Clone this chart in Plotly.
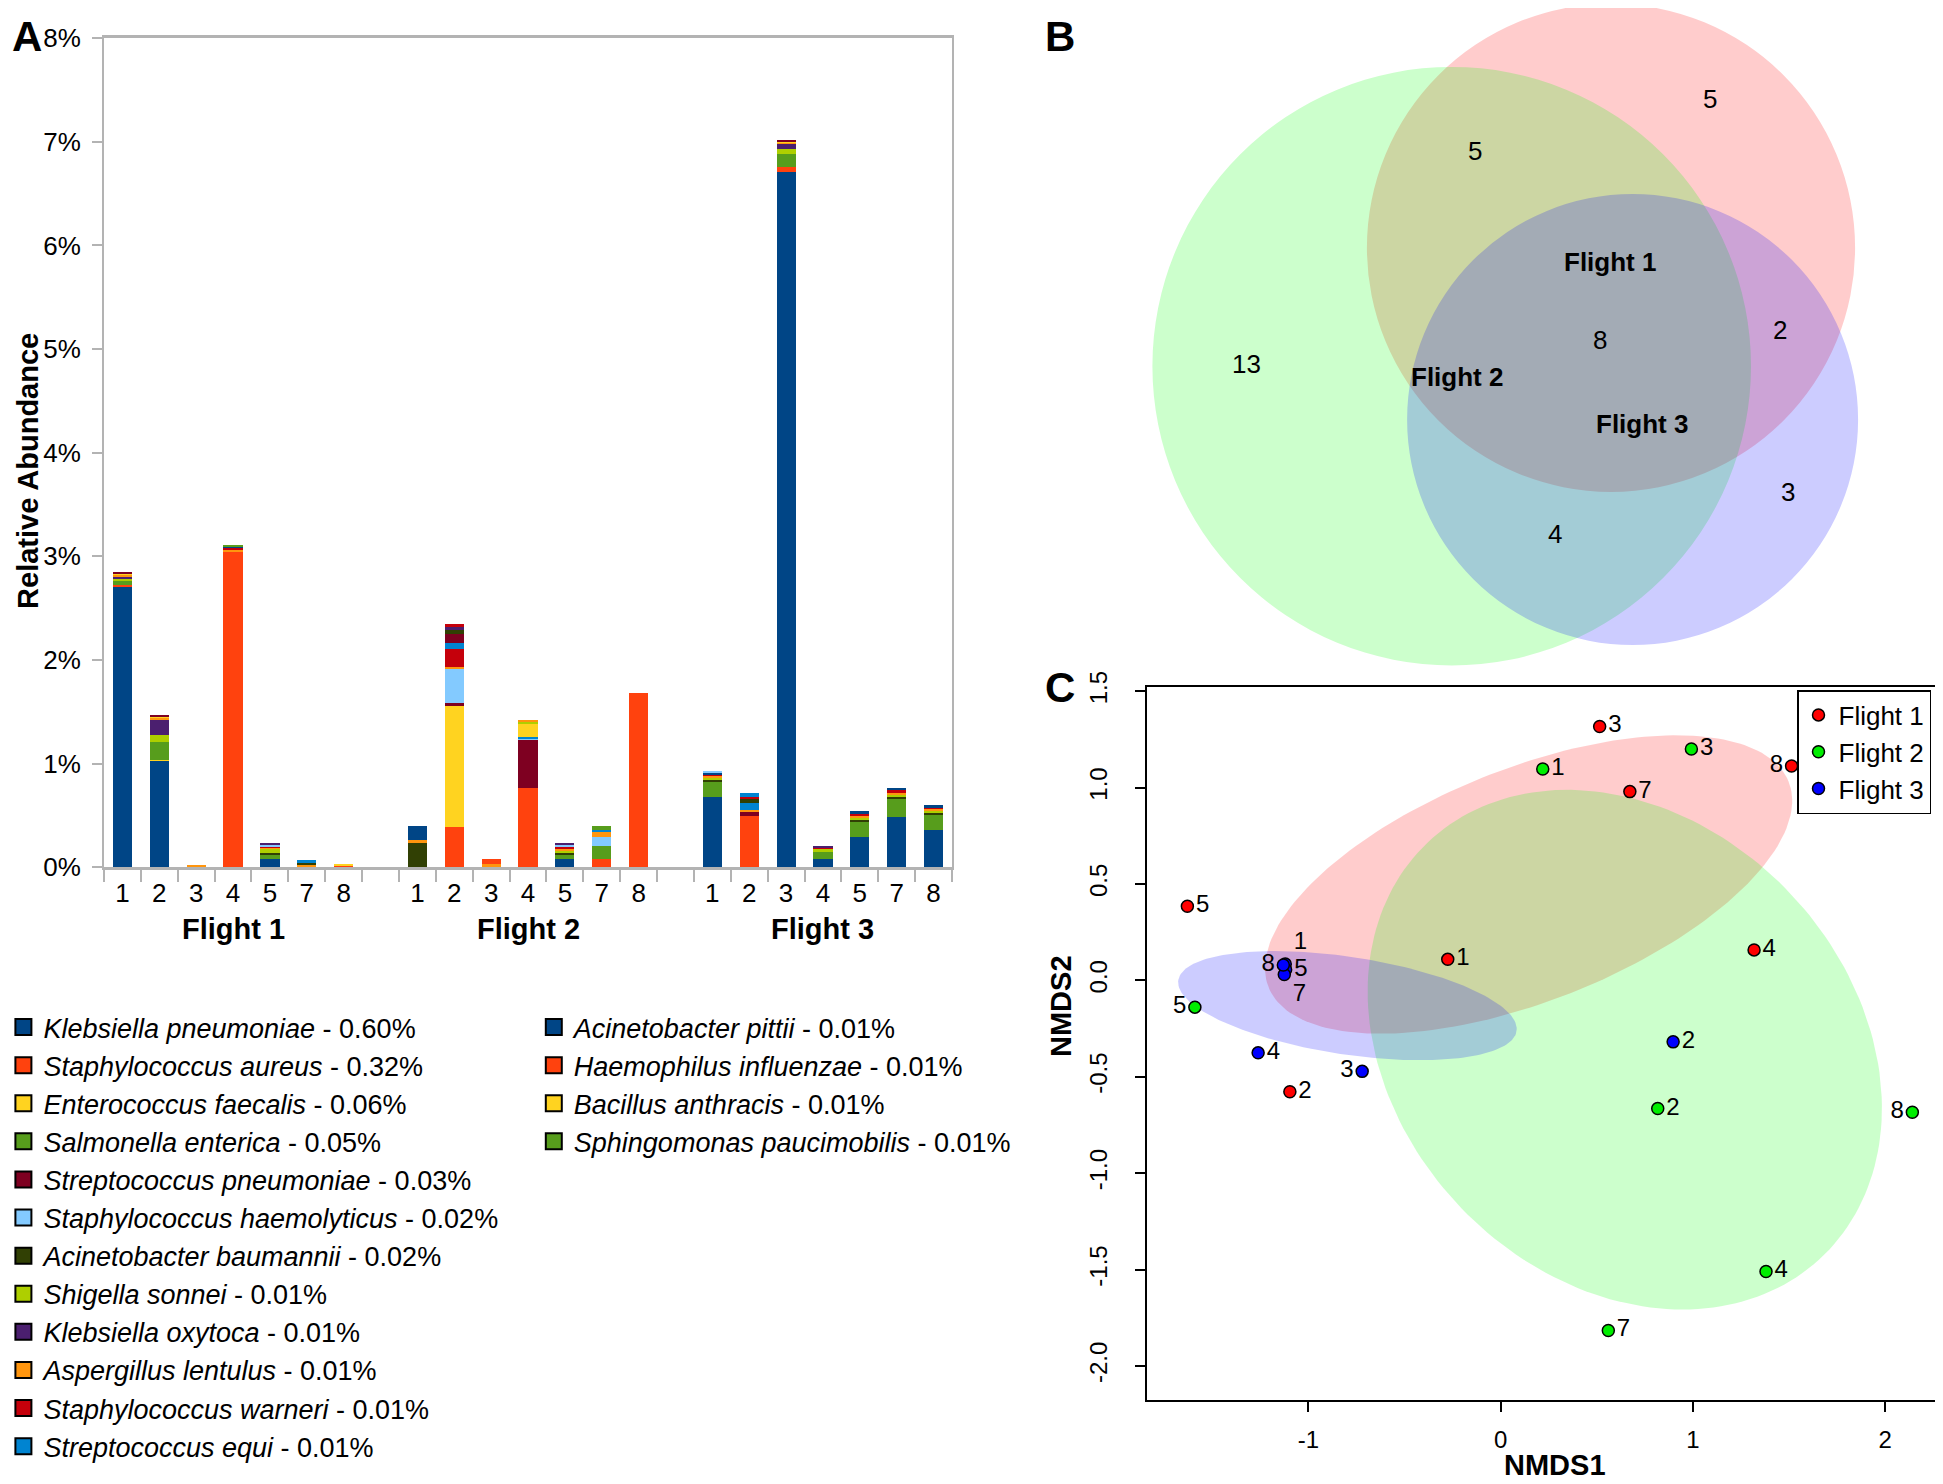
import numpy as np
import plotly.graph_objects as go

SANS = "Liberation Sans, Arial, Helvetica, sans-serif"

# ======================= Panel A : stacked relative abundance =======================
flights = ["Flight 1", "Flight 2", "Flight 3"]
samples = ["1", "2", "3", "4", "5", "7", "8"]
abundance_ticks = [0, 1, 2, 3, 4, 5, 6, 7, 8]

species_names = [
    "Klebsiella pneumoniae", "Staphylococcus aureus", "Enterococcus faecalis",
    "Salmonella enterica", "Streptococcus pneumoniae", "Staphylococcus haemolyticus",
    "Acinetobacter baumannii", "Shigella sonnei", "Klebsiella oxytoca",
    "Aspergillus lentulus", "Staphylococcus warneri", "Streptococcus equi",
    "Acinetobacter pittii", "Haemophilus influenzae", "Bacillus anthracis",
    "Sphingomonas paucimobilis",
]
species_mean = ["0.60%", "0.32%", "0.06%", "0.05%", "0.03%", "0.02%", "0.02%", "0.01%",
                "0.01%", "0.01%", "0.01%", "0.01%", "0.01%", "0.01%", "0.01%", "0.01%"]
other_names = ["Other taxon 1", "Other taxon 2", "Other taxon 3", "Other taxon 4",
               "Other taxon 5", "Other taxon 6", "Other taxon 7", "Other taxon 8"]

# relative abundance (%) per sample: Flight 1 (1,2,3,4,5,7,8), Flight 2 (...), Flight 3 (...)
klebsiella_pneumoniae = [2.707, 1.026, 0, 0, 0.077, 0, 0, 0, 0, 0, 0, 0.084, 0, 0, 0.682, 0, 6.711, 0.084, 0.296, 0.489, 0.36]
staphylococcus_aureus = [0.013, 0, 0.006, 3.04, 0, 0, 0.016, 0, 0.392, 0, 0.762, 0, 0.084, 1.669, 0, 0.495, 0.042, 0, 0, 0, 0]
enterococcus_faecalis = [0, 0.012, 0, 0, 0, 0, 0, 0, 1.164, 0, 0, 0, 0, 0, 0, 0, 0, 0, 0, 0, 0]
salmonella_enterica = [0.045, 0.169, 0, 0, 0.048, 0, 0, 0, 0, 0, 0, 0.042, 0.125, 0, 0.145, 0, 0.132, 0.068, 0.145, 0.177, 0.145]
streptococcus_pneumoniae = [0, 0, 0, 0, 0, 0, 0, 0, 0.03, 0, 0.473, 0, 0, 0, 0, 0.042, 0, 0, 0, 0, 0]
staphylococcus_haemolyticus = [0, 0, 0, 0, 0, 0, 0, 0, 0.328, 0, 0.008, 0, 0.08, 0, 0, 0, 0, 0, 0, 0, 0]
acinetobacter_baumannii = [0, 0, 0, 0, 0.013, 0, 0, 0.238, 0, 0, 0, 0.013, 0, 0, 0.016, 0, 0, 0, 0.016, 0.013, 0.016]
shigella_sonnei = [0.02, 0.07, 0, 0, 0.04, 0, 0, 0, 0, 0, 0, 0.022, 0, 0, 0.022, 0, 0.045, 0.032, 0.022, 0.022, 0.022]
klebsiella_oxytoca = [0.02, 0.15, 0, 0, 0, 0, 0, 0, 0, 0, 0, 0, 0, 0, 0, 0, 0.05, 0, 0, 0, 0]
aspergillus_lentulus = [0.02, 0.016, 0.006, 0.02, 0.01, 0.026, 0, 0.026, 0.02, 0.03, 0, 0.022, 0.058, 0, 0.016, 0.016, 0.013, 0, 0.02, 0.02, 0.02]
staphylococcus_warneri = [0, 0, 0, 0.02, 0.012, 0, 0, 0, 0.174, 0, 0, 0.016, 0, 0, 0.016, 0, 0, 0.01, 0.013, 0.022, 0.013]
streptococcus_equi = [0, 0, 0, 0, 0, 0, 0, 0, 0.055, 0, 0.012, 0, 0.013, 0, 0, 0.07, 0, 0, 0, 0, 0]
acinetobacter_pittii = [0, 0, 0, 0.015, 0, 0, 0, 0.138, 0, 0, 0, 0, 0, 0, 0.016, 0, 0, 0, 0.032, 0.026, 0.022]
haemophilus_influenzae = [0, 0, 0, 0, 0, 0, 0, 0, 0, 0.047, 0, 0, 0, 0.013, 0, 0, 0, 0, 0, 0, 0]
bacillus_anthracis = [0.013, 0.01, 0, 0, 0, 0, 0.013, 0, 0, 0, 0.129, 0, 0, 0, 0, 0, 0.013, 0, 0, 0, 0]
sphingomonas_paucimobilis = [0, 0, 0, 0.015, 0, 0, 0, 0, 0, 0, 0, 0, 0.039, 0, 0, 0, 0, 0, 0, 0, 0]
other_1 = [0.008, 0.01, 0, 0, 0, 0, 0, 0, 0.09, 0, 0, 0, 0, 0, 0, 0, 0.01, 0, 0, 0, 0]
other_2 = [0, 0, 0, 0, 0.016, 0, 0, 0, 0, 0, 0, 0.02, 0, 0, 0.01, 0, 0, 0, 0, 0, 0]
other_3 = [0, 0, 0, 0, 0, 0.02, 0, 0, 0.032, 0, 0, 0, 0, 0, 0, 0.039, 0, 0, 0, 0, 0]
other_4 = [0, 0, 0, 0, 0, 0, 0, 0, 0, 0, 0.026, 0, 0, 0, 0, 0, 0, 0, 0, 0, 0]
other_5 = [0, 0, 0, 0, 0.008, 0, 0, 0, 0.035, 0, 0, 0.013, 0, 0, 0, 0, 0, 0.012, 0, 0, 0]
other_6 = [0, 0, 0, 0, 0, 0, 0, 0, 0, 0, 0.013, 0, 0, 0, 0, 0, 0, 0, 0, 0, 0]
other_7 = [0, 0, 0, 0, 0, 0, 0, 0, 0.032, 0, 0, 0, 0, 0, 0, 0.02, 0, 0, 0, 0, 0]
other_8 = [0, 0, 0, 0, 0, 0.025, 0, 0, 0, 0, 0, 0, 0, 0, 0, 0.035, 0, 0, 0, 0, 0]

abundance = [klebsiella_pneumoniae, staphylococcus_aureus, enterococcus_faecalis,
             salmonella_enterica, streptococcus_pneumoniae, staphylococcus_haemolyticus,
             acinetobacter_baumannii, shigella_sonnei, klebsiella_oxytoca,
             aspergillus_lentulus, staphylococcus_warneri, streptococcus_equi,
             acinetobacter_pittii, haemophilus_influenzae, bacillus_anthracis,
             sphingomonas_paucimobilis,
             other_1, other_2, other_3, other_4, other_5, other_6, other_7, other_8]

base_palette = ["#004586", "#ff420e", "#ffd320", "#579d1c", "#7e0021", "#83caff",
                "#314004", "#aecf00", "#4b1f6f", "#ff950e", "#c5000b", "#0084d1"]
palette = [base_palette[i % 12] for i in range(len(abundance))]

# ======================= Panel B : Venn counts =======================
venn_sets = ["Flight 1", "Flight 2", "Flight 3"]
venn_regions = ["Flight 1 only", "Flight 1 & 2", "Flight 2 only", "All flights",
                "Flight 1 & 3", "Flight 3 only", "Flight 2 & 3"]
venn_counts = [5, 5, 13, 8, 2, 3, 4]

# ======================= Panel C : NMDS =======================
f1_lab = ["1", "2", "3", "4", "5", "7", "8"]
f1_x = [-0.275, -1.096, 0.515, 1.318, -1.629, 0.672, 1.513]
f1_y = [0.109, -0.578, 1.317, 0.158, 0.384, 0.979, 1.112]
f2_lab = ["1", "2", "3", "4", "5", "7", "8"]
f2_x = [0.219, 0.817, 0.992, 1.38, -1.59, 0.56, 2.141]
f2_y = [1.096, -0.665, 1.2, -1.51, -0.139, -1.816, -0.684]
f3_lab = ["1", "2", "3", "4", "5", "7", "8"]
f3_x = [-1.12, 0.897, -0.72, -1.261, -1.118, -1.125, -1.13]
f3_y = [0.085, -0.319, -0.472, -0.376, 0.055, 0.03, 0.08]
nmds_x_ticks = [-1, 0, 1, 2]
nmds_y_ticks = [-2.0, -1.5, -1.0, -0.5, 0.0, 0.5, 1.0, 1.5]

# label placement (style only)
f1_pos = ["middle right"] * 6 + ["middle left"]
f2_pos = ["middle right", "middle right", "middle right", "middle right", "middle left", "middle right", "middle left"]
f3_pos = ["top right", "middle right", "middle left", "middle right", "middle right", "bottom right", "middle left"]

# ---------------- page geometry helpers (pixels -> paper fractions) ----------------
OFF = 8                      # default page margin of the html body
W, H = 1943 - OFF, 1484 - OFF


def pxo(x):
    return (x - OFF) / W


def pyo(y):
    return 1 - (y - OFF) / H


fig = go.Figure()

# ---------- Panel A traces ----------
slot = [f * 8 + s for f in range(len(flights)) for s in range(len(samples))]
for i, vals in enumerate(abundance):
    name = species_names[i] if i < len(species_names) else other_names[i - len(species_names)]
    fig.add_trace(go.Bar(
        x=slot, y=vals, width=0.52, name=name, legendgroup=name,
        marker=dict(color=palette[i], line=dict(width=0)),
        showlegend=False, xaxis="x", yaxis="y",
        hovertemplate=name + ": %{y:.3f}%<extra></extra>"))

for i, name in enumerate(species_names):
    fig.add_trace(go.Scatter(
        x=[None], y=[None], mode="markers", legendgroup=name,
        name=f"<i>{name}</i> - {species_mean[i]}",
        marker=dict(symbol="square", size=16, color=palette[i], line=dict(color="black", width=2)),
        legend="legend" if i < 12 else "legend2", xaxis="x", yaxis="y"))

# ---------- Panel C traces ----------
K = 1.15


def ellipse(xs, ys, k=K, n=200):
    pts = np.column_stack([xs, ys])
    c = pts.mean(axis=0)
    vals, vecs = np.linalg.eigh(np.cov(pts.T))
    t = np.linspace(0, 2 * np.pi, n)
    circ = np.vstack([np.cos(t), np.sin(t)])
    e = vecs @ (np.sqrt(vals)[:, None] * circ) * k
    return c[0] + e[0], c[1] + e[1]


groups = [
    ("Flight 1", f1_x, f1_y, f1_lab, f1_pos, "#ff0000", "rgba(255,0,0,0.2)"),
    ("Flight 2", f2_x, f2_y, f2_lab, f2_pos, "#00ee00", "rgba(0,255,0,0.2)"),
    ("Flight 3", f3_x, f3_y, f3_lab, f3_pos, "#0000ff", "rgba(0,0,255,0.2)"),
]
for name, xs, ys, lab, pos, col, fillc in groups:
    ex, ey = ellipse(xs, ys)
    fig.add_trace(go.Scatter(x=ex, y=ey, mode="lines", fill="toself", fillcolor=fillc,
                             line=dict(width=0), hoverinfo="skip", showlegend=False,
                             xaxis="x3", yaxis="y3"))
for name, xs, ys, lab, pos, col, fillc in groups:
    fig.add_trace(go.Scatter(
        x=xs, y=ys, mode="markers+text", text=lab, textposition=pos, name=name,
        textfont=dict(family=SANS, size=24, color="black"),
        marker=dict(size=12, color=col, line=dict(color="black", width=1.5)),
        legend="legend3", xaxis="x3", yaxis="y3"))

# ---------- Layout ----------
axA_x = [pxo(104), pxo(952)]
axA_y = [pyo(867.3), pyo(38.1)]
B_left, B_bottom = 1053.3, 675.4
axB_x = [pxo(B_left), 1.0]
axB_y = [pyo(B_bottom), 1.0]
axC_x = [pxo(1146.8), pxo(1941)]
axC_y = [pyo(1399.9), pyo(687.3)]

gray = "#b3b3b3"
fig.update_layout(
    width=W, height=H, margin=dict(l=0, r=0, t=0, b=0, autoexpand=False),
    paper_bgcolor="white", plot_bgcolor="rgba(0,0,0,0)", barmode="stack",
    font=dict(family=SANS, color="black"),
    xaxis=dict(domain=axA_x, anchor="y", range=[-0.5, 22.5], tickmode="array",
               tickvals=slot, ticktext=samples * 3, ticks="", showline=True,
               linecolor=gray, linewidth=3, mirror=True, showgrid=False, zeroline=False,
               tickfont=dict(family=SANS, size=26, color="black"), ticklabelstandoff=0,
               minor=dict(tickmode="array", tickvals=[i - 0.5 for i in range(24)],
                          ticks="outside", ticklen=12, tickwidth=2, tickcolor=gray, showgrid=False)),
    yaxis=dict(domain=axA_y, anchor="x", range=[0, 8], tickmode="array",
               tickvals=abundance_ticks, ticktext=[f"{v}%" for v in abundance_ticks],
               ticks="outside", ticklen=10, tickwidth=2, tickcolor=gray, showline=True,
               linecolor=gray, linewidth=2, mirror=True, showgrid=False, zeroline=False,
               tickfont=dict(family=SANS, size=26, color="black"), ticklabelstandoff=6),
    xaxis2=dict(domain=axB_x, anchor="y2", range=[B_left, 1943], visible=False, fixedrange=True),
    yaxis2=dict(domain=axB_y, anchor="x2", range=[B_bottom, OFF], visible=False, fixedrange=True),
    xaxis3=dict(domain=axC_x, anchor="y3", range=[-1.84, 2.29], tickmode="array",
                tickvals=nmds_x_ticks, ticktext=[str(v) for v in nmds_x_ticks],
                ticks="outside", ticklen=10, tickwidth=1.5, tickcolor="black",
                showline=True, linecolor="black", linewidth=2, mirror=True,
                showgrid=False, zeroline=False, ticklabelstandoff=7,
                tickfont=dict(family=SANS, size=24, color="black")),
    yaxis3=dict(domain=axC_y, anchor="x3", range=[-2.176, 1.52], tickmode="array",
                tickvals=nmds_y_ticks, ticktext=[f"{v:.1f}" for v in nmds_y_ticks],
                tickangle=-90, ticks="outside", ticklen=10, tickwidth=1.5, tickcolor="black",
                showline=True, linecolor="black", linewidth=2, mirror=True,
                showgrid=False, zeroline=False, ticklabelstandoff=18,
                tickfont=dict(family=SANS, size=24, color="black")),
    legend=dict(x=pxo(3.4), y=pyo(1003), xanchor="left", yanchor="top", bgcolor="rgba(0,0,0,0)",
                font=dict(family=SANS, size=27, color="black"), itemclick=False,
                itemdoubleclick=False, tracegroupgap=0),
    legend2=dict(x=pxo(533.8), y=pyo(1003), xanchor="left", yanchor="top", bgcolor="rgba(0,0,0,0)",
                 font=dict(family=SANS, size=27, color="black"), itemclick=False,
                 itemdoubleclick=False, tracegroupgap=0),
    legend3=dict(x=pxo(1797), y=pyo(690), xanchor="left", yanchor="top", bgcolor="white",
                 bordercolor="black", borderwidth=1.5,
                 font=dict(family=SANS, size=26, color="black"), tracegroupgap=0),
)

# Venn circles in page pixels (geometry is layout, counts are data)
venn_geometry = {"Flight 1": (1611.0, 247.8, 244.1), "Flight 2": (1451.7, 366.2, 299.3),
                 "Flight 3": (1632.6, 419.5, 225.5)}
venn_fill = {"Flight 1": "rgba(255,0,0,0.2)", "Flight 2": "rgba(0,255,0,0.2)",
             "Flight 3": "rgba(0,0,255,0.2)"}
for s in venn_sets:
    cx, cy, r = venn_geometry[s]
    fig.add_shape(type="circle", xref="x2", yref="y2", x0=cx - r, x1=cx + r,
                  y0=cy - r, y1=cy + r, fillcolor=venn_fill[s], line=dict(width=0))

venn_count_pos = [(1710, 99), (1474.6, 151.2), (1246.6, 364.3), (1599.8, 339.5),
                  (1779.5, 329.6), (1788.2, 492), (1555.2, 534.1)]
for (px, py), cnt in zip(venn_count_pos, venn_counts):
    fig.add_annotation(x=px, y=py, xref="x2", yref="y2", text=str(cnt), showarrow=False,
                       xanchor="center", yanchor="middle",
                       font=dict(family=SANS, size=26, color="black"))
venn_label_pos = [(1609.7, 261.5), (1457.3, 376.7), (1641.9, 423.8)]
for (px, py), s in zip(venn_label_pos, venn_sets):
    fig.add_annotation(x=px, y=py, xref="x2", yref="y2", text=f"<b>{s}</b>", showarrow=False,
                       xanchor="center", yanchor="middle",
                       font=dict(family=SANS, size=26, color="black"))

# group labels for panel A
for f, fl in enumerate(flights):
    fig.add_annotation(x=f * 8 + 3, y=pyo(929.4), xref="x", yref="paper", text=f"<b>{fl}</b>",
                       showarrow=False, xanchor="center", yanchor="middle",
                       font=dict(family=SANS, size=29, color="black"))

# axis titles and panel letters
texts = [
    ("<b>Relative Abundance</b>", 28, 470.9, -90, 29),
    ("<b>NMDS1</b>", 1555.2, 1465, 0, 29),
    ("<b>NMDS2</b>", 1060.8, 1006.2, -90, 29),
    ("<b>A</b>", 27, 37, 0, 42),
    ("<b>B</b>", 1059.5, 37, 0, 42),
    ("<b>C</b>", 1059.5, 687.8, 0, 42),
]
for txt, x0, y0, ang, sz in texts:
    fig.add_annotation(x=pxo(x0), y=pyo(y0), xref="paper", yref="paper", text=txt,
                       textangle=ang, showarrow=False, xanchor="center", yanchor="middle",
                       font=dict(family=SANS, size=sz, color="black"))

fig.write_html("out.html")
